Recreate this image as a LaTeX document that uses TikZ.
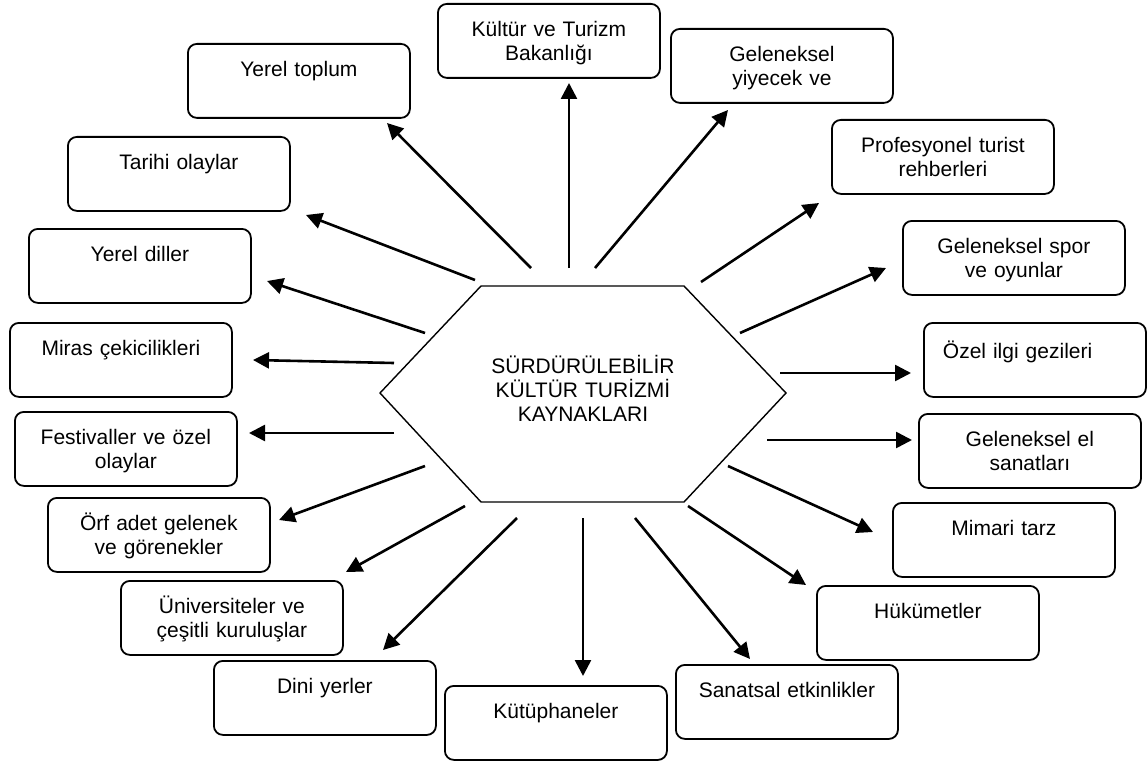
\documentclass[tikz,border=0pt]{standalone}
\usepackage{fontspec}
\setmainfont{Liberation Sans}
\usetikzlibrary{arrows.meta}

\tikzset{
    kutu/.style={draw, line width=1.8pt, rounded corners=9pt, anchor=north west,
        text width=210pt, align=center, inner xsep=6pt, inner ysep=0pt,
        text height=32.5pt, text depth=41.5pt, font=\fontsize{21}{24}\selectfont},
    ok/.style={draw, line width=2.6pt, -{Triangle[length=16pt, width=16pt]}}
}

\begin{document}
\begin{tikzpicture}[x=1pt, y=-1pt]
    \useasboundingbox(0,0)rectangle(1147,762);
    % hexagon
    \coordinate(h1)at(481,286);
    \coordinate(h2)at(684,286);
    \coordinate(h3)at(786,393);
    \coordinate(h4)at(684,502);
    \coordinate(h5)at(481,502);
    \coordinate(h6)at(380,393);
    \path[draw, line width=1.4pt](h1)--(h2)--(h3)--(h4)--(h5)--(h6)--cycle;
    \node[text width=300pt, align=center, anchor=base, inner sep=0pt,
        font=\fontsize{21}{24}\selectfont](merkez)at(583,373.5){SÜRDÜRÜLEBİLİR\\KÜLTÜR TURİZMİ\\KAYNAKLARI};
    % boxes
    \node[kutu](bakanlik)at(437,3){Kültür ve Turizm\\Bakanlığı};
    \node[kutu](toplum)at(187,43){Yerel toplum};
    \node[kutu](yiyecek)at(670,28){Geleneksel\\yiyecek ve};
    \node[kutu](tarih)at(67,136){Tarihi olaylar};
    \node[kutu](rehber)at(831,119){Profesyonel turist\\rehberleri};
    \node[kutu](dil)at(28,228){Yerel diller};
    \node[kutu](spor)at(902,220){Geleneksel spor\\ve oyunlar};
    \node[kutu](miras)at(9,322){Miras çekicilikleri};
    \node[kutu, align=left, text height=35.5pt, text depth=38.5pt](gezi)at(923,322){\hspace*{13pt}Özel ilgi gezileri};
    \node[kutu](festival)at(14,411){Festivaller ve özel\\olaylar};
    \node[kutu](elsanat)at(918,413){Geleneksel el\\sanatları};
    \node[kutu](orf)at(47,497){Örf adet gelenek\\ve görenekler};
    \node[kutu](mimari)at(892,502){Mimari tarz};
    \node[kutu](univ)at(120,580){Üniversiteler ve\\çeşitli kuruluşlar};
    \node[kutu](hukumet)at(816,585){Hükümetler};
    \node[kutu](dini)at(213,660){Dini yerler};
    \node[kutu](kutup)at(444,685){Kütüphaneler};
    \node[kutu](sanat)at(675,664){Sanatsal etkinlikler};
    % arrow ends
    \coordinate(s1)at(531,268);  \coordinate(e1)at(387,123);
    \coordinate(s2)at(569,268);  \coordinate(e2)at(569,83);
    \coordinate(s3)at(475,280);  \coordinate(e3)at(306,215);
    \coordinate(s4)at(425,333);  \coordinate(e4)at(267,281);
    \coordinate(s5)at(394,363);  \coordinate(e5)at(253,360);
    \coordinate(s6)at(394,433);  \coordinate(e6)at(249,433);
    \coordinate(s7)at(425,466);  \coordinate(e7)at(279,520);
    \coordinate(s8)at(465,506);  \coordinate(e8)at(346,572);
    \coordinate(s9)at(517,518);  \coordinate(e9)at(383,650);
    \coordinate(s10)at(583,518); \coordinate(e10)at(583,676);
    \coordinate(s11)at(635,518); \coordinate(e11)at(750,659);
    \coordinate(s12)at(688,506); \coordinate(e12)at(806,585);
    \coordinate(s13)at(728,466); \coordinate(e13)at(873,532);
    \coordinate(s14)at(767,440); \coordinate(e14)at(912,440);
    \coordinate(s15)at(780,373); \coordinate(e15)at(911,373);
    \coordinate(s16)at(740,333); \coordinate(e16)at(886,268);
    \coordinate(s17)at(701,282); \coordinate(e17)at(819,203);
    \coordinate(s18)at(595,268); \coordinate(e18)at(728,110);
    % arrows
    \foreach \i in {1,...,18}
        \path[ok](s\i)to(e\i);
\end{tikzpicture}
\end{document}
